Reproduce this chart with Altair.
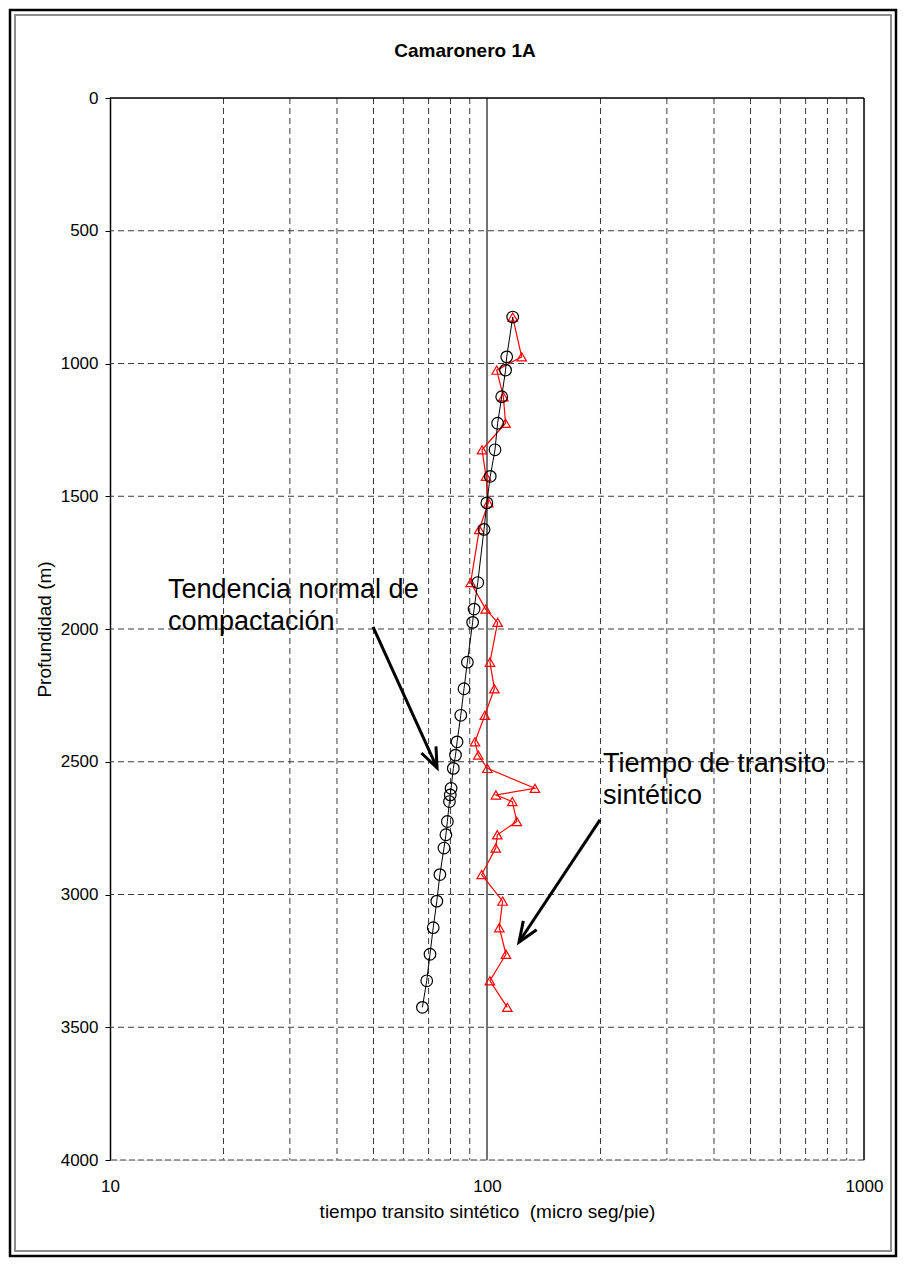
import altair as alt
import pandas as pd

# ---- data ----
depth = [825, 975, 1025, 1125, 1225, 1325, 1425, 1525, 1625, 1825, 1925, 1975,
         2125, 2225, 2325, 2425, 2475, 2525, 2600, 2625, 2650, 2725, 2775, 2825,
         2925, 3025, 3125, 3225, 3325, 3425]
trend = [117, 112.8, 112, 109.4, 106.7, 105, 102, 99.9, 98.2, 94.5, 92.4, 91.6,
         88.7, 86.9, 85.2, 83.3, 82.5, 81.4, 80.3, 79.9, 79.5, 78.5, 77.8, 76.9,
         75.0, 73.6, 72.0, 70.6, 69.2, 67.4]
synthetic = [117, 123.6, 106.1, 110.5, 112, 97, 99.4, 100.8, 95.4, 90.5, 99.2, 106.7,
             101.8, 104.6, 98.7, 92.9, 94.8, 100.2, 134, 105.6, 116.7, 120, 106.5, 105.5,
             96.8, 110, 107.8, 112.3, 101.8, 113.2]

x_minor = [20, 30, 40, 50, 60, 70, 80, 90, 200, 300, 400, 500, 600, 700, 800, 900]
x_major = [100]
x_border = [1000]
y_dashed = [500, 1000, 1500, 2000, 2500, 3000, 3500]
y_top = [0]
y_bottom = [4000]
x_labels = [10, 100, 1000]
y_labels = [0, 500, 1000, 1500, 2000, 2500, 3000, 3500, 4000]

title_text = ["Camaronero 1A"]
ann_text = ["Tendencia normal de\ncompactación", "Tiempo de transito\nsintético"]
ann_x = [14.25, 203.2]
ann_y = [1883, 2539]
arrow_x0 = [49.85, 199.4]
arrow_y0 = [1992, 2719]
arrow_x1 = [73.7, 121.6]
arrow_y1 = [2523, 3179]
arrow_angle = [335.4, 33.3]

FONT = "Liberation Sans"
W, H = 754, 1062

df = pd.DataFrame({"depth": depth, "trend": trend, "synthetic": synthetic})
ann = pd.DataFrame({"text": ann_text, "x": ann_x, "y": ann_y})
arrows = pd.DataFrame({"x0": arrow_x0, "y0": arrow_y0, "x1": arrow_x1,
                       "y1": arrow_y1, "angle": arrow_angle})

xscale = alt.Scale(type="log", domain=[10, 1000], nice=False)
yscale = alt.Scale(domain=[0, 4000], reverse=True, nice=False)
XTITLE = "tiempo transito sintético \u00a0(micro seg/pie)"
YTITLE = "Profundidad (m)"

xaxis = alt.Axis(values=x_labels, format="d", labelFlush=False, ticks=False,
                 domain=False, grid=False, labelFontSize=17, labelPadding=18,
                 labelColor="black", titleFontSize=19, titleFontWeight="normal",
                 titleColor="black", titlePadding=8, labelFont=FONT, titleFont=FONT)
yaxis = alt.Axis(values=y_labels, format="d", grid=False, tickSize=5, tickColor="black",
                 domainColor="black", domainWidth=1.5, labelFontSize=17,
                 labelPadding=7, labelColor="black", titleFontSize=19,
                 titleFontWeight="normal", titleColor="black", titlePadding=6,
                 labelFont=FONT, titleFont=FONT)


def X(field):
    return alt.X(field, type="quantitative", scale=xscale, axis=xaxis, title=XTITLE)


def Y(field):
    return alt.Y(field, type="quantitative", scale=yscale, axis=yaxis, title=YTITLE)


# frame around the whole figure (decoration)
frame_df = pd.DataFrame({"k": [0]})
frame_outer = alt.Chart(frame_df).mark_rect(filled=False, stroke="black", strokeWidth=2.5).encode(
    x=alt.value(-100), x2=alt.value(786), y=alt.value(-88), y2=alt.value(1158))
frame_inner = alt.Chart(frame_df).mark_rect(filled=False, stroke="#8c8c8c", strokeWidth=2).encode(
    x=alt.value(-95), x2=alt.value(781), y=alt.value(-83), y2=alt.value(1153))

# chart title (as a text mark, centred above the plot like the reference)
title_mark = alt.Chart(pd.DataFrame({"t": title_text})).mark_text(
    fontSize=19, fontWeight="bold", font=FONT, color="black", align="center",
    baseline="alphabetic").encode(x=alt.value(355), y=alt.value(-41), text="t:N")

# gridlines
g_minor = alt.Chart(pd.DataFrame({"v": x_minor})).mark_rule(
    color="#3a3a3a", strokeDash=[6, 4], strokeWidth=1).encode(x=X("v"))
g_major = alt.Chart(pd.DataFrame({"v": x_major})).mark_rule(
    color="#444444", strokeWidth=1.5).encode(x=X("v"))
g_right = alt.Chart(pd.DataFrame({"v": x_border})).mark_rule(
    color="black", strokeWidth=1.5).encode(x=X("v"))
g_h = alt.Chart(pd.DataFrame({"v": y_dashed})).mark_rule(
    color="#3a3a3a", strokeDash=[6, 4], strokeWidth=1).encode(y=Y("v"))
g_top = alt.Chart(pd.DataFrame({"v": y_top})).mark_rule(
    color="black", strokeWidth=1.5).encode(y=Y("v"))
g_bottom = alt.Chart(pd.DataFrame({"v": y_bottom})).mark_rule(
    color="#808080", strokeDash=[6, 3], strokeWidth=1.5).encode(y=Y("v"))

# data series
base = alt.Chart(df)
trend_line = base.mark_line(color="black", strokeWidth=1).encode(
    x=X("trend"), y=Y("depth"), order="depth:Q")
trend_pts = base.mark_point(shape="circle", filled=False, color="black", size=135,
                            strokeWidth=1.2, opacity=1).encode(x=X("trend"), y=Y("depth"))
syn_line = base.mark_line(color="#ff0000", strokeWidth=1.2).encode(
    x=X("synthetic"), y=Y("depth"), order="depth:Q")
syn_pts = base.mark_point(shape="triangle-up", filled=False, color="#ff0000", size=90,
                          strokeWidth=1.2, opacity=1).encode(x=X("synthetic"), y=Y("depth"))

# annotations
ann_txt = alt.Chart(ann).mark_text(align="left", baseline="alphabetic", fontSize=27,
                                   font=FONT, color="black", lineBreak="\n",
                                   lineHeight=32).encode(
    x=X("x"), y=Y("y"), text="text:N")
arr_line = alt.Chart(arrows).mark_rule(color="black", strokeWidth=3).encode(
    x=X("x0"), y=Y("y0"), x2="x1:Q", y2="y1:Q")
arr_head = alt.Chart(arrows).mark_point(shape="M -0.4 -1 L 0 0 L 0.4 -1", filled=False,
                                        size=1600, color="black", strokeWidth=3,
                                        opacity=1).encode(
    x=X("x1"), y=Y("y1"), angle=alt.Angle("angle:Q", scale=None))

chart = alt.layer(
    frame_outer, frame_inner, title_mark,
    g_minor, g_h, g_bottom, g_major, g_right, g_top,
    syn_line, syn_pts, trend_line, trend_pts,
    arr_line, arr_head, ann_txt,
).properties(
    width=W, height=H,
    autosize=alt.AutoSizeParams(type="none"),
    padding={"left": 102, "top": 90, "right": 34, "bottom": 98},
    background="white",
).configure_view(stroke=None).configure(font=FONT)

chart.save("out.html", embed_options={"renderer": "svg", "actions": False})
